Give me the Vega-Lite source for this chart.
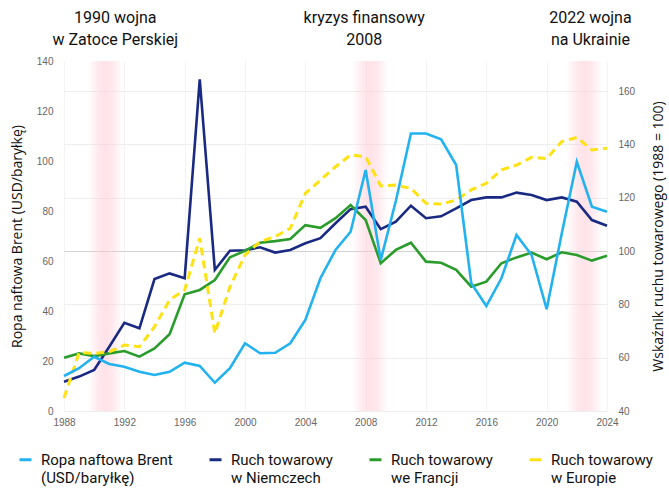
{
  "$schema": "https://vega.github.io/schema/vega-lite/v6.json",
  "width": 543,
  "height": 350,
  "autosize": {"type": "none"},
  "padding": {"left": 64, "top": 61, "right": 62, "bottom": 77},
  "background": "white",
  "config": {
    "view": {"stroke": null},
    "axis": {"labelFont": "Liberation Sans", "labelFontSize": 10, "labelColor": "#666666", "domain": false, "ticks": false, "titleFont": "Open Sans", "titleFontSize": 14, "titleFontWeight": "normal", "titleColor": "#111111"},
    "legend": {"labelFont": "Roboto", "labelFontSize": 15, "labelColor": "#111111"}
  },
  "layer": [
    {
      "data": {"values": [
        {"start": 1989.6, "end": 1991.9},
        {"start": 2007.1, "end": 2009.5},
        {"start": 2021.3, "end": 2023.7}
      ]},
      "mark": {"type": "rect", "fill": {"gradient": "linear", "x1": 0, "x2": 1, "y1": 0, "y2": 0, "stops": [{"offset": 0, "color": "rgba(255,200,212,0)"}, {"offset": 0.3, "color": "rgba(255,200,212,0.4)"}, {"offset": 0.5, "color": "rgba(255,198,210,0.5)"}, {"offset": 0.7, "color": "rgba(255,200,212,0.4)"}, {"offset": 1, "color": "rgba(255,200,212,0)"}]}},
      "encoding": {
        "x": {"field": "start", "type": "quantitative", "scale": {"domain": [1988, 2024], "nice": false, "zero": false},
          "axis": {"values": [1988, 1992, 1996, 2000, 2004, 2008, 2012, 2016, 2020, 2024], "format": "d", "title": null, "labelPadding": 6, "grid": true, "gridColor": "#f3f3f3", "labelFlush": false}},
        "x2": {"field": "end"}
      }
    },
    {
      "data": {"name": "main"},
      "transform": [{"fold": ["Niemcy", "Francja", "Europa"], "as": ["series", "value"]}],
      "encoding": {
        "x": {"field": "year", "type": "quantitative", "scale": {"domain": [1988, 2024], "nice": false, "zero": false}},
        "y": {"field": "value", "type": "quantitative", "scale": {"domain": [40, 171.25], "nice": false, "zero": false},
          "axis": {"orient": "right", "values": [40, 60, 80, 100, 120, 140, 160], "title": "Wskaźnik ruchu towarowego (1988 = 100)", "titleAngle": 270, "titleBaseline": "top", "titlePadding": 17, "labelPadding": 11, "grid": true, "gridColor": {"condition": {"test": "datum.value === 100", "value": "#d2d2d2"}, "value": "#eeeeee"}}},
        "color": {"field": "series", "type": "nominal",
          "scale": {"domain": ["Brent", "Niemcy", "Francja", "Europa"], "range": ["#22b2f0", "#1a2a82", "#2a9c2c", "#ffe214"]},
          "legend": {"title": null, "orient": "none", "legendX": -46, "legendY": 391, "direction": "horizontal", "columns": 4, "columnPadding": 30, "symbolType": "stroke", "symbolSize": 144, "symbolStrokeWidth": 3, "labelOffset": 8, "labelLimit": 300, "padding": 0,
            "labelExpr": "datum.label == 'Brent' ? ['Ropa naftowa Brent', '(USD/baryłkę)'] : datum.label == 'Niemcy' ? ['Ruch towarowy', 'w Niemczech'] : datum.label == 'Francja' ? ['Ruch towarowy', 'we Francji'] : ['Ruch towarowy', 'w Europie']",
            "encode": {"labels": {"update": {"lineHeight": {"value": 18}}}}}}
      },
      "layer": [
        {"transform": [{"filter": "datum.series != 'Europa'"}], "mark": {"type": "line", "strokeWidth": 2.6}},
        {"transform": [{"filter": "datum.series == 'Europa'"}], "mark": {"type": "line", "strokeWidth": 3, "strokeDash": [8, 5]}}
      ]
    },
    {
      "encoding": {
        "x": {"field": "year", "type": "quantitative", "scale": {"domain": [1988, 2024], "nice": false, "zero": false}},
        "y": {"field": "value", "type": "quantitative", "scale": {"domain": [0, 140], "nice": false, "zero": false},
          "axis": {"orient": "left", "values": [0, 20, 40, 60, 80, 100, 120, 140], "title": "Ropa naftowa Brent (USD/baryłkę)", "titlePadding": 12, "labelPadding": 11, "grid": false}}
      },
      "layer": [
        {
          "data": {"name": "main"},
          "transform": [{"fold": ["Brent"], "as": ["series", "value"]}],
          "mark": {"type": "line", "strokeWidth": 2.6},
          "encoding": {"color": {"field": "series", "type": "nominal"}}
        },
        {
          "data": {"values": [
            {"year": 1991.4, "value": 157.2, "label": "1990 wojna|w Zatoce Perskiej"},
            {"year": 2007.9, "value": 157.2, "label": "kryzys finansowy|2008"},
            {"year": 2022.9, "value": 157.2, "label": "2022 wojna|na Ukrainie"}
          ]},
          "mark": {"type": "text", "font": "Roboto", "fontSize": 16, "color": "#111111", "baseline": "middle", "align": "center", "lineBreak": "|", "lineHeight": 22},
          "encoding": {"text": {"field": "label"}}
        }
      ]
    }
  ],
  "resolve": {"scale": {"y": "independent"}},
  "datasets": {
    "main": [
      {"year": 1988, "Brent": 14.0, "Niemcy": 51.0, "Francja": 60.0, "Europa": 44.9},
      {"year": 1989, "Brent": 17.1, "Niemcy": 52.9, "Francja": 61.6, "Europa": 61.9},
      {"year": 1990, "Brent": 21.7, "Niemcy": 55.4, "Francja": 60.6, "Europa": 61.6},
      {"year": 1991, "Brent": 18.8, "Niemcy": 64.1, "Francja": 61.6, "Europa": 62.2},
      {"year": 1992, "Brent": 17.7, "Niemcy": 73.1, "Francja": 62.5, "Europa": 64.7},
      {"year": 1993, "Brent": 15.7, "Niemcy": 71.0, "Francja": 60.4, "Europa": 64.1},
      {"year": 1994, "Brent": 14.4, "Niemcy": 89.5, "Francja": 63.5, "Europa": 71.6},
      {"year": 1995, "Brent": 15.7, "Niemcy": 91.6, "Francja": 68.8, "Europa": 81.6},
      {"year": 1996, "Brent": 19.3, "Niemcy": 89.8, "Francja": 83.8, "Europa": 85.4},
      {"year": 1997, "Brent": 18.0, "Niemcy": 164.4, "Francja": 85.4, "Europa": 104.8},
      {"year": 1998, "Brent": 11.3, "Niemcy": 92.9, "Francja": 89.1, "Europa": 69.1},
      {"year": 1999, "Brent": 17.1, "Niemcy": 100.1, "Francja": 97.6, "Europa": 86.6},
      {"year": 2000, "Brent": 27.1, "Niemcy": 100.3, "Francja": 100.1, "Europa": 98.5},
      {"year": 2001, "Brent": 23.1, "Niemcy": 101.4, "Francja": 103.1, "Europa": 103.5},
      {"year": 2002, "Brent": 23.3, "Niemcy": 99.4, "Francja": 103.7, "Europa": 105.4},
      {"year": 2003, "Brent": 27.1, "Niemcy": 100.4, "Francja": 104.5, "Europa": 108.5},
      {"year": 2004, "Brent": 36.4, "Niemcy": 102.9, "Francja": 109.7, "Europa": 121.6},
      {"year": 2005, "Brent": 53.1, "Niemcy": 104.8, "Francja": 108.7, "Europa": 126.6},
      {"year": 2006, "Brent": 64.4, "Niemcy": 110.4, "Francja": 112.3, "Europa": 131.6},
      {"year": 2007, "Brent": 71.7, "Niemcy": 115.7, "Francja": 117.2, "Europa": 136.0},
      {"year": 2008, "Brent": 96.4, "Niemcy": 116.6, "Francja": 111.6, "Europa": 135.4},
      {"year": 2009, "Brent": 60.4, "Niemcy": 108.2, "Francja": 95.4, "Europa": 124.4},
      {"year": 2010, "Brent": 84.0, "Niemcy": 111.0, "Francja": 100.4, "Europa": 124.7},
      {"year": 2011, "Brent": 111.0, "Niemcy": 117.0, "Francja": 103.1, "Europa": 123.5},
      {"year": 2012, "Brent": 111.0, "Niemcy": 112.3, "Francja": 96.0, "Europa": 117.9},
      {"year": 2013, "Brent": 108.7, "Niemcy": 113.0, "Francja": 95.6, "Europa": 117.6},
      {"year": 2014, "Brent": 98.4, "Niemcy": 116.0, "Francja": 92.9, "Europa": 119.1},
      {"year": 2015, "Brent": 51.1, "Niemcy": 119.1, "Francja": 86.6, "Europa": 122.9},
      {"year": 2016, "Brent": 42.0, "Niemcy": 120.1, "Francja": 88.5, "Europa": 125.4},
      {"year": 2017, "Brent": 53.1, "Niemcy": 120.1, "Francja": 95.4, "Europa": 130.4},
      {"year": 2018, "Brent": 70.4, "Niemcy": 121.9, "Francja": 97.6, "Europa": 132.2},
      {"year": 2019, "Brent": 62.4, "Niemcy": 121.0, "Francja": 99.4, "Europa": 135.1},
      {"year": 2020, "Brent": 40.7, "Niemcy": 119.1, "Francja": 96.9, "Europa": 134.7},
      {"year": 2021, "Brent": 71.0, "Niemcy": 120.1, "Francja": 99.5, "Europa": 141.0},
      {"year": 2022, "Brent": 99.7, "Niemcy": 118.5, "Francja": 98.5, "Europa": 142.6},
      {"year": 2023, "Brent": 81.7, "Niemcy": 111.6, "Francja": 96.4, "Europa": 137.9},
      {"year": 2024, "Brent": 79.7, "Niemcy": 109.5, "Francja": 98.2, "Europa": 138.5}
    ]
  }
}
